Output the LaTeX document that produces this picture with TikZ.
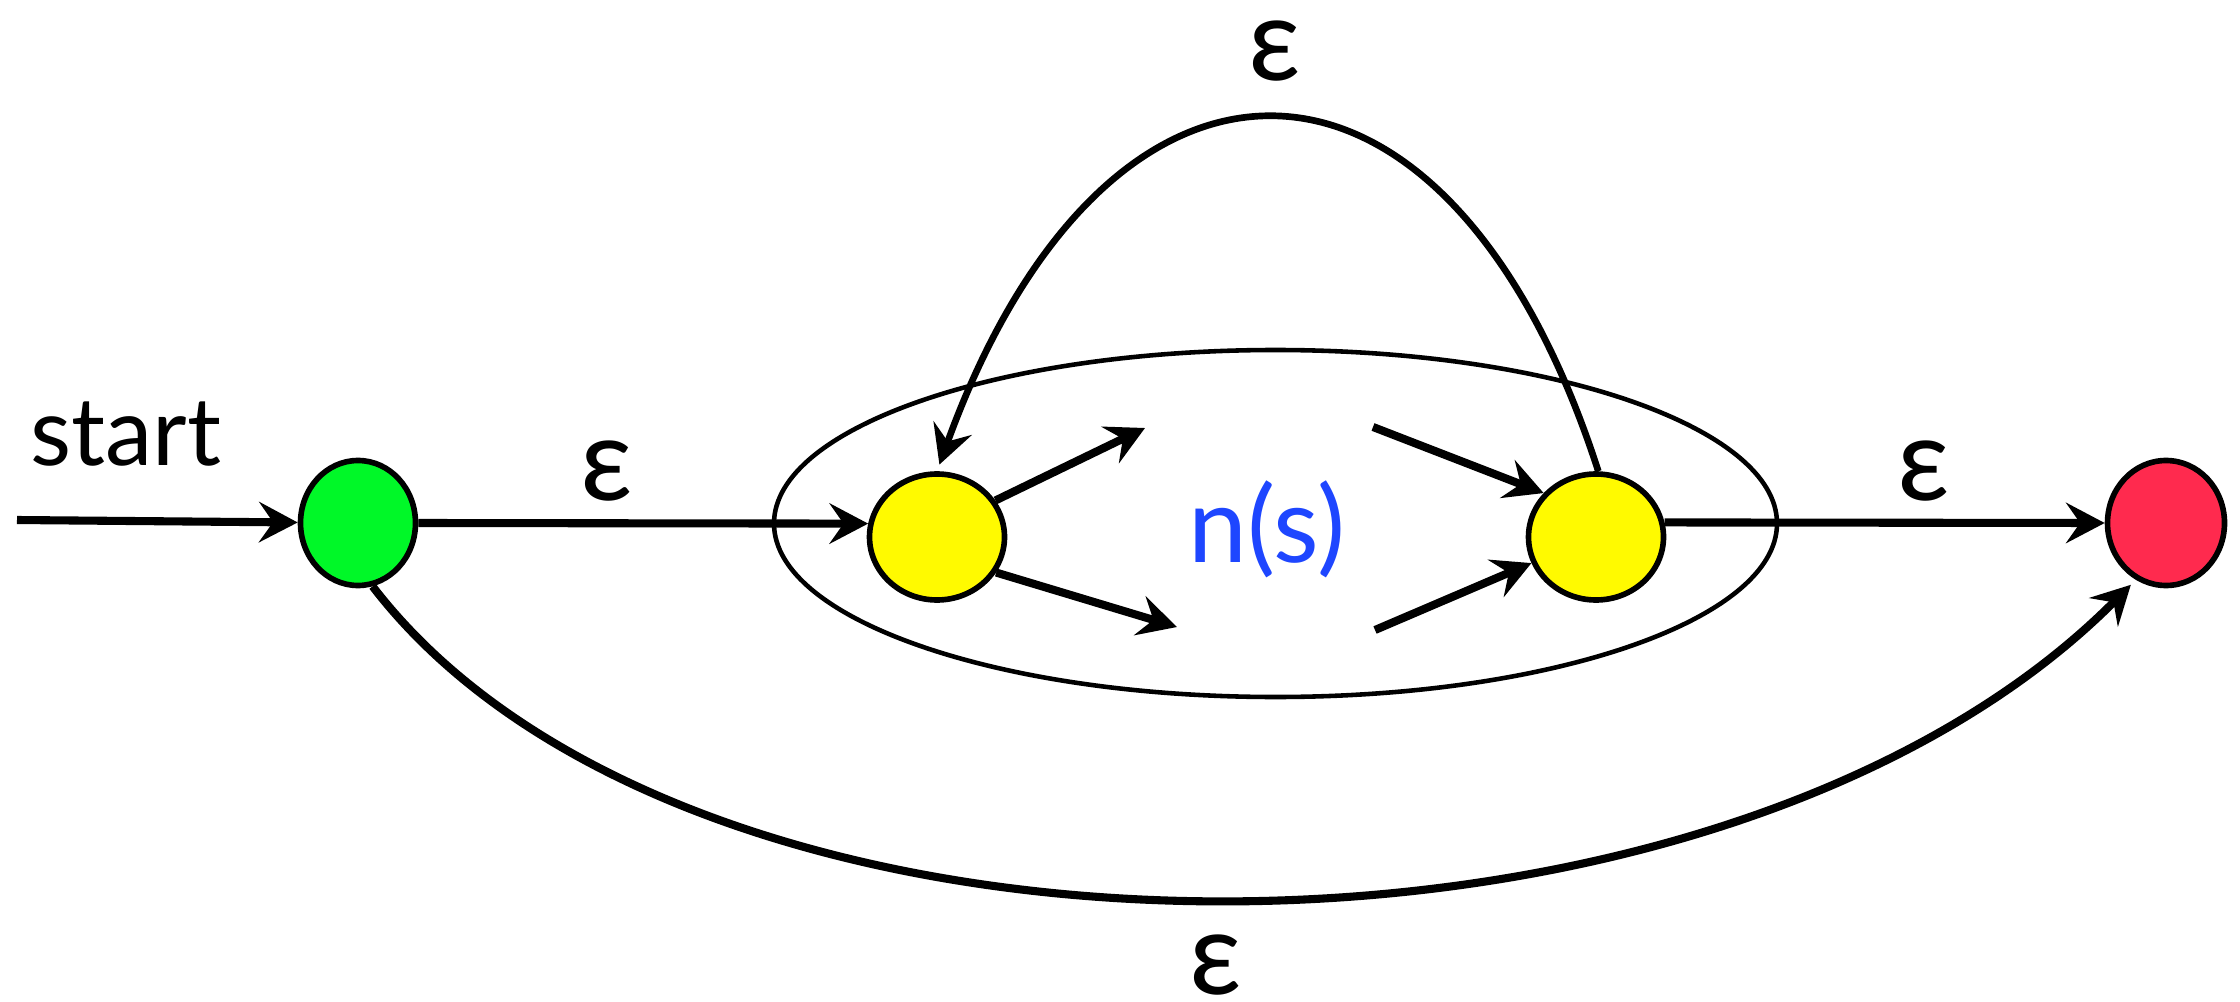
\documentclass[tikz,border=0pt]{standalone}
\usepackage{fontspec}
\setmainfont{Lato}
\usepackage{xcolor}
\usetikzlibrary{shapes.geometric,arrows.meta,positioning}
\definecolor{startgreen}{RGB}{0,248,40}
\definecolor{stateyellow}{RGB}{255,250,0}
\definecolor{acceptred}{RGB}{255,42,78}
\definecolor{labelblue}{RGB}{30,70,255}

\begin{document}
\begin{tikzpicture}[>={Stealth[length=11pt,width=11.5pt,inset=4pt]},
    state/.style={draw, ellipse, line width=1.6pt, inner sep=0pt},
    trans/.style={->, line width=2.3pt},
    eps/.style={font=\fontsize{33}{36}\selectfont, inner sep=0pt}]
        \useasboundingbox (0,0) rectangle (22.4,10.01);

        % States
        \node[state, fill=startgreen, minimum width=1.15cm, minimum height=1.25cm] (g) at (3.58,4.78) {};
        \node[state, fill=stateyellow, minimum width=1.35cm, minimum height=1.26cm] (y1) at (9.37,4.64) {};
        \node[state, fill=stateyellow, minimum width=1.35cm, minimum height=1.26cm] (y2) at (15.96,4.64) {};
        \node[state, fill=acceptred, minimum width=1.17cm, minimum height=1.25cm] (r) at (21.66,4.78) {};

        % Sub-automaton N(s)
        \node[draw, ellipse, line width=1.3pt, minimum width=10.03cm, minimum height=3.47cm] (nfa) at (12.755,4.775) {};
        \node[font=\fontsize{30}{33}\selectfont, text=labelblue, anchor=base] (ns) at (12.67,4.39) {n(s)};
        \node[font=\fontsize{27}{30}\selectfont, anchor=base] (lbl) at (1.26,5.36) {start};

        % Free ends
        \coordinate (in) at (0.17,4.81);
        \coordinate (a) at (11.45,5.73);
        \coordinate (b) at (11.77,3.74);
        \coordinate (c) at (13.73,5.74);
        \coordinate (d) at (13.75,3.71);

        % Transitions
        \draw[trans] (in) -- (g);
        \draw[trans] (g.east) -- node[eps, pos=0.42, above=5pt] {ε} (y1.169);
        \draw[trans] (y2.12) -- node[eps, pos=0.59, above=5pt] {ε} (r.west);
        \draw[trans] (y1.32) -- (a);
        \draw[trans] (y1.-31) -- (b);
        \draw[trans] (c) -- (y2.140);
        \draw[trans] (d) -- (y2.-158);

        % Loop back and bypass
        \draw[trans, line width=1.9pt, shorten >=2pt] (y2.88) .. controls (14.47,9.99) and (11.07,9.99) .. (y1.north) node[eps, pos=0.5, above=10pt] {ε};
        \draw[trans, shorten >=2pt] (g.-77) .. controls (6.93,-0.03) and (17.14,-0.03) .. (r.-118) node[eps, pos=0.5, below=9pt] {ε};
    \end{tikzpicture}
\end{document}
